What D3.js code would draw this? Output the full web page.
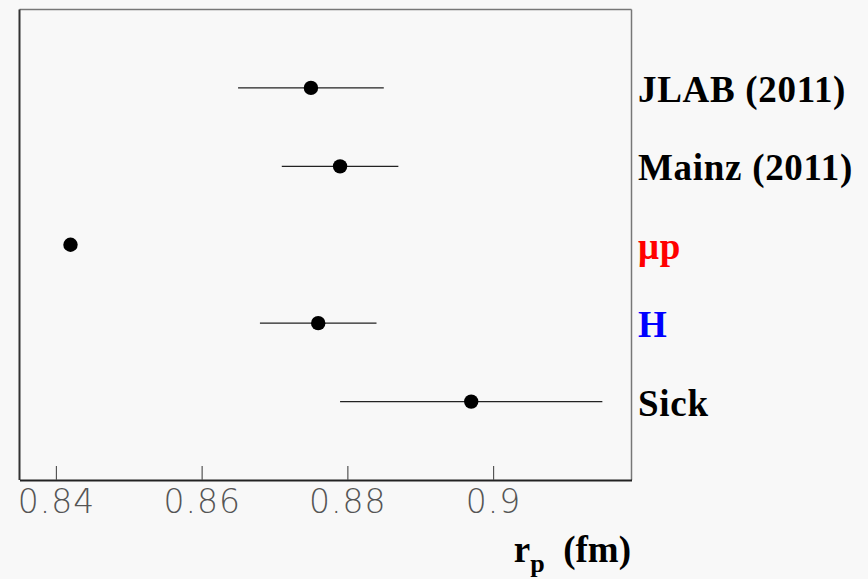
<!DOCTYPE html>
<html><head><meta charset="utf-8">
<script src="https://cdn.jsdelivr.net/npm/d3@7"></script>
<style>body{margin:0;background:#f8f8f8;}svg{display:block;}</style>
</head><body>
<script>
const experiments = ["JLAB (2011)", "Mainz (2011)", "μp", "H", "Sick"];
const rows = [5, 4, 3, 2, 1];
const radius = [0.875, 0.879, 0.842, 0.876, 0.897];
const errors = [0.010, 0.008, 0.0007, 0.008, 0.018];
const labelColors = ["#000", "#000", "#ff0000", "#0000ff", "#000"];
const tickValues = [0.84, 0.86, 0.88, 0.9];
const tickLabels = ["0.84", "0.86", "0.88", "0.9"];

const W = 868, H = 579;
const m = {left: 19.5, top: 9.5, right: 631.5, bottom: 480};
const svg = d3.select("body").append("svg").attr("width", W).attr("height", H);
svg.append("rect").attr("width", W).attr("height", H).attr("fill", "#f8f8f8");

const x = d3.scaleLinear().domain([0.835, 0.919]).range([m.left, m.right]);
const y = d3.scaleLinear().domain([0, 6]).range([m.bottom, m.top]);

// frame
svg.append("line").attr("x1", m.left).attr("x2", m.right).attr("y1", m.top).attr("y2", m.top).attr("stroke", "#777").attr("stroke-width", 1.5);
svg.append("line").attr("x1", m.right).attr("x2", m.right).attr("y1", m.top).attr("y2", m.bottom).attr("stroke", "#777").attr("stroke-width", 1.5);
svg.append("line").attr("x1", m.left).attr("x2", m.left).attr("y1", m.top).attr("y2", m.bottom).attr("stroke", "#333").attr("stroke-width", 2);

// x axis
const ax = svg.append("g").attr("transform", `translate(0,${m.bottom})`)
  .call(d3.axisBottom(x).tickValues(tickValues).tickFormat((d, i) => tickLabels[i]).tickSizeInner(-14).tickSizeOuter(0).tickPadding(12));
ax.select(".domain").attr("stroke", "#222").attr("stroke-width", 2);
ax.selectAll(".tick line").attr("stroke", "#555").attr("stroke-width", 1.2);
ax.selectAll(".tick text").attr("fill", "#555").attr("font-family", "DejaVu Sans").attr("font-weight", 200).attr("font-size", 33)
  .attr("letter-spacing", 1)
  .attr("y", 0).attr("dy", 0).attr("transform", "translate(0,33)").attr("dominant-baseline", "auto");

// error bars
svg.append("g").selectAll("line").data(radius).join("line")
  .attr("x1", (d, i) => x(d - errors[i])).attr("x2", (d, i) => x(d + errors[i]))
  .attr("y1", (d, i) => y(rows[i])).attr("y2", (d, i) => y(rows[i]))
  .attr("stroke", "#222").attr("stroke-width", 1.3);
// points
svg.append("g").selectAll("circle").data(radius).join("circle")
  .attr("cx", d => x(d)).attr("cy", (d, i) => y(rows[i])).attr("r", 7.2).attr("fill", "#000");

// labels
svg.append("g").selectAll("text").data(experiments).join("text")
  .attr("x", 638).attr("y", (d, i) => y(rows[i]) + 14)
  .attr("font-family", "Liberation Serif, Times New Roman, serif").attr("font-weight", "bold").attr("font-size", 37)
  .attr("letter-spacing", 0.7)
  .attr("fill", (d, i) => labelColors[i]).text(d => d);

// axis title
const t = svg.append("text").attr("x", 631).attr("y", 562).attr("text-anchor", "end")
  .attr("font-family", "Liberation Serif, Times New Roman, serif").attr("font-weight", "bold").attr("font-size", 37).attr("fill", "#000");
t.append("tspan").text("r");
t.append("tspan").attr("font-size", 26).attr("dy", 10).text("p");
t.append("tspan").attr("dy", -10).text("  (fm)").attr("xml:space", "preserve");
</script>
</body></html>
